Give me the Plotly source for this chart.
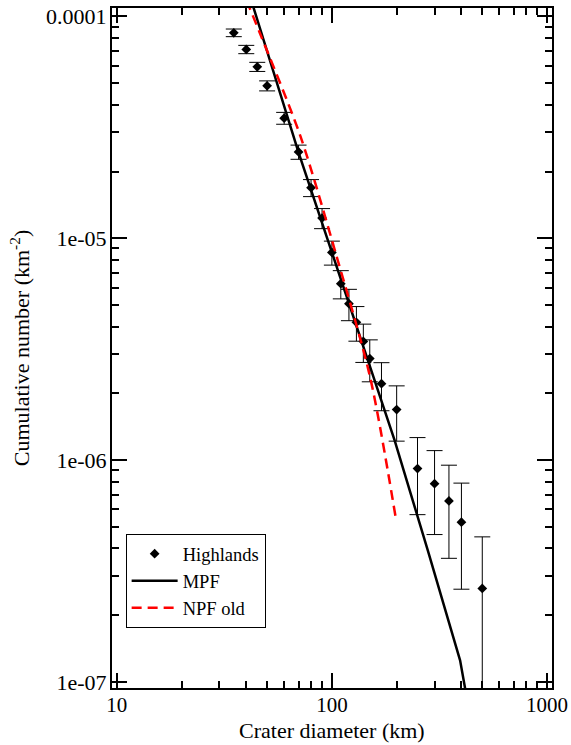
import plotly.graph_objects as go

# Highlands crater counts (cumulative)
diameter_km = [35, 40, 45, 50, 60, 70, 80, 90, 100, 110, 120, 130, 140, 150,
               170, 200, 250, 300, 350, 400, 500]
cumulative = [8.44e-5, 7.10e-5, 5.93e-5, 4.87e-5, 3.48e-5, 2.45e-5, 1.69e-5,
              1.233e-5, 8.64e-6, 6.24e-6, 5.07e-6, 4.18e-6, 3.43e-6, 2.87e-6,
              2.21e-6, 1.69e-6, 9.16e-7, 7.83e-7, 6.55e-7, 5.25e-7, 2.64e-7]
cumulative_err = [3.34e-6, 3.06e-6, 2.80e-6, 2.53e-6, 2.14e-6, 1.80e-6, 1.49e-6,
                  1.28e-6, 1.07e-6, 9.07e-7, 8.18e-7, 7.43e-7, 6.73e-7, 6.15e-7,
                  5.40e-7, 4.72e-7, 3.48e-7, 3.21e-7, 2.94e-7, 2.63e-7, 1.87e-7]

# MPF curve
mpf_d = [42.2, 69.9, 100, 195.7, 279.1, 394.3, 416]
mpf_n = [1.181e-4, 2.446e-5, 8.64e-6, 1.228e-6, 3.92e-7, 1.253e-7, 9.37e-8]

# NPF old curve
npf_d = [40.1, 46.4, 71.2, 105.4, 150.5, 198]
npf_n = [1.181e-4, 8.36e-5, 2.909e-5, 8.23e-6, 2.368e-6, 5.5e-7]

y_tickvals = [1e-4, 1e-5, 1e-6, 1e-7]
y_ticktext = ["0.0001", "1e-05", "1e-06", "1e-07"]
x_tickvals = [10, 100, 1000]
x_ticktext = ["10", "100", "1000"]

FONT = "Liberation Serif, Times New Roman, serif"

fig = go.Figure()
fig.add_trace(go.Scatter(
    x=diameter_km, y=cumulative, mode="markers", name="Highlands",
    marker=dict(symbol="diamond", size=7.5, color="black"),
    error_y=dict(type="data", array=cumulative_err, color="black",
                 thickness=1, width=8),
))
fig.add_trace(go.Scatter(
    x=mpf_d, y=mpf_n, mode="lines", name="MPF",
    line=dict(color="black", width=2.5),
))
fig.add_trace(go.Scatter(
    x=npf_d, y=npf_n, mode="lines", name="NPF old",
    line=dict(color="red", width=2.5, dash="10px,6px", shape="spline", smoothing=0.8),
))

minor_x = [m * 10 ** k for k in (1, 2) for m in range(2, 10)]
minor_y = [m * 10 ** k for k in (-8, -7, -6, -5) for m in range(2, 10)]

fig.update_xaxes(
    type="log", range=[0.978, 3.023], automargin=False,
    tickmode="array", tickvals=x_tickvals, ticktext=x_ticktext,
    ticks="inside", ticklen=15, tickwidth=1.5, tickcolor="black",
    minor=dict(tickmode="array", tickvals=minor_x, ticks="inside",
               ticklen=7, tickwidth=1.5, tickcolor="black"),
    showline=True, linewidth=2, linecolor="black", mirror="allticks",
    showgrid=False, zeroline=False,
    tickfont=dict(family=FONT, size=21, color="black"),
    ticklabelstandoff=-3,
)
fig.update_yaxes(
    type="log", range=[-7.027, -3.962], automargin=False,
    tickmode="array", tickvals=y_tickvals, ticktext=y_ticktext,
    ticks="inside", ticklen=15, tickwidth=1.5, tickcolor="black",
    minor=dict(tickmode="array", tickvals=minor_y, ticks="inside",
               ticklen=7, tickwidth=1.5, tickcolor="black"),
    showline=True, linewidth=2, linecolor="black", mirror="allticks",
    showgrid=False, zeroline=False,
    tickfont=dict(family=FONT, size=22, color="black"),
    ticklabelstandoff=-1,
    title=dict(text="Cumulative number (km<sup>-2</sup>)",
               font=dict(family=FONT, size=22, color="black"), standoff=10),
)
fig.add_annotation(
    text="Crater diameter (km)", xref="paper", yref="paper",
    x=0.5, y=-0.0632, xanchor="center", yanchor="middle", showarrow=False,
    font=dict(family=FONT, size=22, color="black"),
)
fig.update_layout(
    width=571, height=745,
    margin=dict(l=112, r=19, t=8, b=57),
    paper_bgcolor="white", plot_bgcolor="white",
    showlegend=True,
    legend=dict(x=0.031, y=0.088, xanchor="left", yanchor="bottom",
                bordercolor="black", borderwidth=1, bgcolor="white",
                font=dict(family=FONT, size=18.5, color="black"),
                itemwidth=46, tracegroupgap=0),
)
fig.write_html("out.html", config={"displayModeBar": False},
               post_script="document.body.style.margin='0';document.body.style.padding='0';")
